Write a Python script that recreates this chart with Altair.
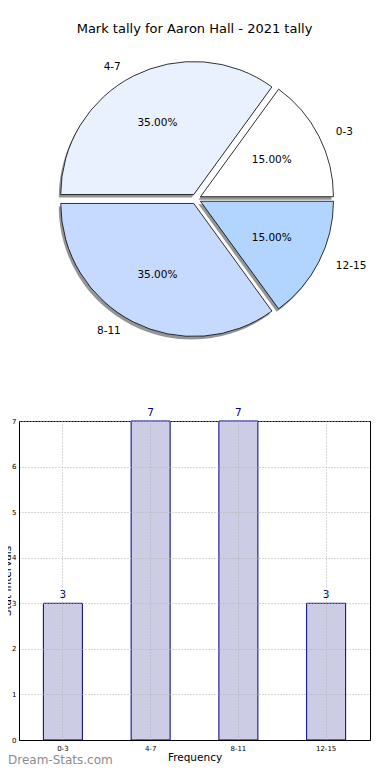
import math
import altair as alt
import pandas as pd

# ---- data ----
labels = ["0-3", "4-7", "8-11", "12-15"]
tallies = [3, 7, 7, 3]
pie_colors = ["#ffffff", "#eaf1fe", "#c6d9fe", "#b2d5ff"]
title_text = "Mark tally for Aaron Hall - 2021 tally"
x_title = "Frequency"
y_title = "Stat Intervals"
y_ticks = [0, 1, 2, 3, 4, 5, 6, 7]
watermark = ["Dream-Stats.com"]

df = pd.DataFrame({"label": labels, "tally": tallies, "idx": list(range(len(labels)))})

FONT = "DejaVu Sans"
PW, PH = 351, 319          # bar plot area
CX, CY = 177, -222         # pie centre, relative to the bar plot area
R = 133                    # pie radius
EXPLODE = 5                # explode distance of every wedge

theta_scale = alt.Scale(domain=[0, 1], range=[math.pi / 2, math.pi / 2 - 2 * math.pi])

pie_base = (
    alt.Chart(df)
    .transform_joinaggregate(total="sum(tally)")
    .transform_window(cum="sum(tally)", sort=[alt.SortField("idx")], frame=[None, 0])
    .transform_calculate(
        start="(datum.cum - datum.tally) / datum.total",
        stop="datum.cum / datum.total",
    )
    .transform_calculate(
        mid="(datum.start + datum.stop) / 2",
        pct="format(datum.tally / datum.total * 100, '.2f') + '%'",
    )
    .transform_calculate(
        ex=f"{CX} + {EXPLODE} * cos(datum.mid * 2 * PI)",
        ey=f"{CY} - {EXPLODE} * sin(datum.mid * 2 * PI)",
    )
    .transform_calculate(sx="datum.ex - 2", sy="datum.ey + 3")
)

shadow = pie_base.mark_arc(outerRadius=R, fill="#7a7a7a", opacity=0.8).encode(
    theta=alt.Theta("start:Q", scale=theta_scale, stack=False),
    theta2="stop:Q",
    x=alt.X("sx:Q", scale=None, axis=None),
    y=alt.Y("sy:Q", scale=None, axis=None),
)

wedges = pie_base.mark_arc(outerRadius=R, stroke="black", strokeWidth=0.8).encode(
    theta=alt.Theta("start:Q", scale=theta_scale, stack=False),
    theta2="stop:Q",
    color=alt.Color("label:N", scale=alt.Scale(domain=labels, range=pie_colors), legend=None),
    x=alt.X("ex:Q", scale=None, axis=None),
    y=alt.Y("ey:Q", scale=None, axis=None),
)

pct_text = pie_base.mark_text(radius=80, fontSize=10.5, font=FONT, color="black").encode(
    theta=alt.Theta("mid:Q", scale=theta_scale, stack=False),
    text="pct:N",
    x=alt.X("ex:Q", scale=None, axis=None),
    y=alt.Y("ey:Q", scale=None, axis=None),
)

lbl_right = (
    pie_base.transform_filter("datum.mid < 0.25 || datum.mid > 0.75")
    .mark_text(radius=143, align="left", dx=8, fontSize=10.5, font=FONT, color="black")
    .encode(
        theta=alt.Theta("mid:Q", scale=theta_scale, stack=False),
        text="label:N",
        x=alt.X("ex:Q", scale=None, axis=None),
        y=alt.Y("ey:Q", scale=None, axis=None),
    )
)

lbl_left = (
    pie_base.transform_filter("datum.mid >= 0.25 && datum.mid <= 0.75")
    .mark_text(radius=143, align="right", dx=-8, fontSize=10.5, font=FONT, color="black")
    .encode(
        theta=alt.Theta("mid:Q", scale=theta_scale, stack=False),
        text="label:N",
        x=alt.X("ex:Q", scale=None, axis=None),
        y=alt.Y("ey:Q", scale=None, axis=None),
    )
)

bar_base = alt.Chart(df).encode(
    x=alt.X(
        "label:N",
        sort=labels,
        scale=alt.Scale(paddingInner=0, paddingOuter=0),
        axis=alt.Axis(
            title=x_title, labelAngle=0, labelFontSize=7, titleFontSize=10.5,
            labelPadding=4, titlePadding=1, ticks=False, grid=True, zindex=1,
            titleFontWeight="normal",
        ),
    ),
    y=alt.Y(
        "tally:Q",
        scale=alt.Scale(domain=[0, 7], nice=False),
        axis=alt.Axis(
            title=y_title, values=y_ticks, labelFontSize=7, titleFontSize=10.5,
            labelPadding=3, ticks=False, grid=True, zindex=1, titleX=-7,
            titleFontWeight="normal",
        ),
    ),
)

bars = bar_base.mark_bar(width=39, fill="#ccccE5", stroke="#000080", strokeWidth=1)
bar_text = bar_base.mark_text(dy=-5, baseline="alphabetic", fontSize=10.5, font=FONT, color="#000080").encode(
    text="tally:Q"
)
bar_layer = alt.layer(bars, bar_text)

wm = alt.Chart(pd.DataFrame({"t": watermark})).mark_text(
    align="left", baseline="middle", fontSize=12, font=FONT, color="#8c8c8c"
).encode(text="t:N", x=alt.value(-11), y=alt.value(PH + 20))

chart = (
    alt.layer(shadow, wedges, pct_text, lbl_right, lbl_left, bar_layer, wm)
    .resolve_scale(x="independent", y="independent")
    .properties(
        width=PW,
        height=PH,
        title=alt.TitleParams(
            text=title_text, fontSize=13, font=FONT, fontWeight="normal",
            anchor="middle", frame="group", offset=24, color="black",
        ),
        padding={"left": 11, "top": 413, "right": 12, "bottom": 28},
        autosize=alt.AutoSizeParams(type="none"),
    )
    .configure_view(stroke="black", strokeWidth=1)
    .configure_axis(
        domainColor="black", domainWidth=1, gridColor="#b0b0b0", gridDash=[1, 2],
        gridWidth=1, labelFont=FONT, titleFont=FONT, labelColor="black", titleColor="black",
    )
)

chart.save("out.html", embed_options={"renderer": "svg", "actions": False})
